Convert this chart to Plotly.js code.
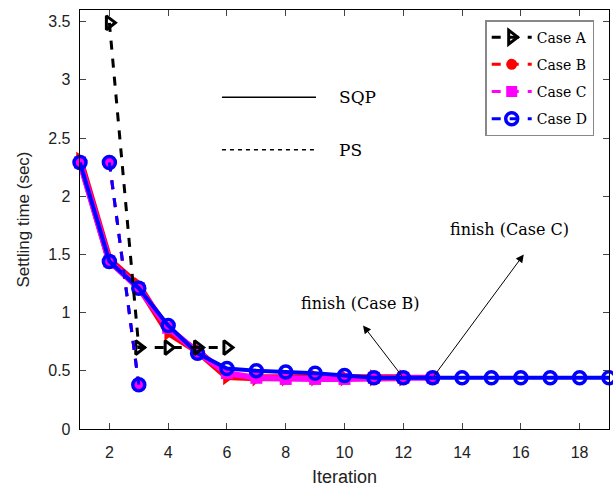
<!DOCTYPE html>
<html>
<head>
<meta charset="utf-8">
<script src="https://cdn.plot.ly/plotly-3.0.1.min.js"></script>
<style>html,body{margin:0;padding:0;background:#fff;}#chart{width:613px;height:492px;}</style>
</head>
<body>
<div id="chart"></div>
<script>
// ---- data ----
const caseNames = ["Case A", "Case B", "Case C", "Case D"];
// PS (dashed)
const psA_x = [2, 3, 4, 5, 6];
const psA_y = [3.49, 0.70, 0.70, 0.70, 0.70];
const psB_x = [2, 3];
const psB_y = [2.29, 0.38];
const psC_x = [2, 3];
const psC_y = [2.29, 0.38];
const psD_x = [2, 3];
const psD_y = [2.29, 0.38];
// SQP (solid)
const sqpB_x = [1, 2, 3, 4, 5, 6, 7, 8, 9, 10, 11, 12];
const sqpB_y = [2.31, 1.45, 1.23, 0.83, 0.67, 0.45, 0.44, 0.44, 0.44, 0.44, 0.44, 0.44];
const sqpC_x = [1, 2, 3, 4, 5, 6, 7, 8, 9, 10, 11, 12, 13];
const sqpC_y = [2.29, 1.44, 1.21, 0.87, 0.66, 0.48, 0.44, 0.43, 0.43, 0.43, 0.44, 0.44, 0.44];
const sqpD_x = [1, 2, 3, 4, 5, 6, 7, 8, 9, 10, 11, 12, 13, 14, 15, 16, 17, 18, 19];
const sqpD_y = [2.29, 1.44, 1.21, 0.89, 0.65, 0.52, 0.50, 0.49, 0.48, 0.46, 0.44, 0.44, 0.44, 0.44, 0.44, 0.44, 0.44, 0.44, 0.44];
const xTicks = [2, 4, 6, 8, 10, 12, 14, 16, 18];
const yTicks = [0, 0.5, 1, 1.5, 2, 2.5, 3, 3.5];
const yTickText = ["0", "0.5", "1", "1.5", "2", "2.5", "3", "3.5"];

const traces = [
  // SQP solid traces (no legend)
  {x: sqpB_x, y: sqpB_y, mode: "lines+markers", showlegend: false, cliponaxis: false,
   line: {color: "#ff0000", width: 7},
   marker: {symbol: "triangle-right", size: 15, color: "#ff0000"}},
  {x: sqpC_x, y: sqpC_y, mode: "lines+markers", showlegend: false, cliponaxis: false,
   line: {color: "#ff00ff", width: 6},
   marker: {symbol: "square", size: 12, color: "#ff00ff"}},
  {x: sqpD_x, y: sqpD_y, mode: "lines+markers", showlegend: false, cliponaxis: false,
   line: {color: "#0000ff", width: 4},
   marker: {symbol: "circle-open", size: 12, color: "#0000ff", line: {width: 3.5, color: "#0000ff"}}},
  // PS dashed traces (legend)
  {x: psA_x, y: psA_y, mode: "lines+markers", name: caseNames[0], legendgroup: "a", cliponaxis: false,
   line: {color: "#000000", width: 3, dash: "dash"},
   marker: {symbol: "triangle-right-open", size: 12, color: "#000000", line: {width: 3, color: "#000000"}}},
  {x: psB_x, y: psB_y, mode: "lines+markers", name: caseNames[1], legendgroup: "b",
   line: {color: "#ff0000", width: 3, dash: "dash"},
   marker: {symbol: "circle", size: 11, color: "#ff0000"}},
  {x: psC_x, y: psC_y, mode: "lines+markers", name: caseNames[2], legendgroup: "c",
   line: {color: "#ff00ff", width: 3, dash: "dash"},
   marker: {symbol: "square", size: 11, color: "#ff00ff", line: {width: 0}}},
  {x: psD_x, y: psD_y, mode: "lines+markers", name: caseNames[3], legendgroup: "d",
   line: {color: "#0000ff", width: 3, dash: "dash"},
   marker: {symbol: "circle-open", size: 12, color: "#0000ff", line: {width: 3.5, color: "#0000ff"}}}
];

const serif = "DejaVu Serif, Liberation Serif, serif";
const layout = {
  width: 613, height: 492,
  margin: {l: 80, r: 4, t: 10, b: 63},
  paper_bgcolor: "#fff", plot_bgcolor: "#fff",
  font: {family: "Liberation Sans, Arial, sans-serif", color: "#000"},
  xaxis: {
    range: [1, 19], tickvals: xTicks, ticks: "inside", ticklen: 6,
    showline: true, mirror: "ticks", linecolor: "#000", linewidth: 1.3,
    showgrid: false, zeroline: false, tickfont: {size: 16, color: "#222"},
    ticklabelstandoff: 8,
    title: {text: "Iteration", font: {size: 18, color: "#222"}, standoff: 11}
  },
  yaxis: {
    range: [0, 3.6], tickvals: yTicks, ticktext: yTickText, ticks: "inside", ticklen: 6,
    showline: true, mirror: "ticks", linecolor: "#000", linewidth: 1.3,
    showgrid: false, zeroline: false, tickfont: {size: 16, color: "#222"},
    ticklabelstandoff: 5,
    title: {text: "Settling time (sec)", font: {size: 17, color: "#222"}, standoff: 14}
  },
  legend: {
    x: 0.766, y: 0.976, xanchor: "left", yanchor: "top",
    bgcolor: "#fff", bordercolor: "#888", borderwidth: 1.5,
    font: {family: serif, size: 14, color: "#000"},
    itemwidth: 40, traceorder: "grouped", tracegroupgap: 6
  },
  shapes: [
    {type: "line", xref: "x", yref: "y", x0: 5.83, x1: 9.03, y0: 2.85, y1: 2.85,
     line: {color: "#000", width: 1.5}},
    {type: "line", xref: "x", yref: "y", x0: 5.83, x1: 9.03, y0: 2.40, y1: 2.40,
     line: {color: "#000", width: 1.5, dash: "4px,4px"}}
  ],
  annotations: [
    {x: 9.75, y: 2.85, xref: "x", yref: "y", text: "SQP", showarrow: false, xanchor: "left",
     font: {family: serif, size: 17, color: "#000"}},
    {x: 9.75, y: 2.40, xref: "x", yref: "y", text: "PS", showarrow: false, xanchor: "left",
     font: {family: serif, size: 17, color: "#000"}},
    {x: 10.52, y: 1.08, xref: "x", yref: "y", text: "finish (Case B)", showarrow: false,
     font: {family: serif, size: 16, color: "#000"}},
    {x: 15.63, y: 1.71, xref: "x", yref: "y", text: "finish (Case C)", showarrow: false,
     font: {family: serif, size: 16, color: "#000"}},
    {x: 10.63, y: 0.89, xref: "x", yref: "y", ax: 12.0, ay: 0.44, axref: "x", ayref: "y",
     text: "", showarrow: true, arrowhead: 2, arrowsize: 1.6, arrowwidth: 1, arrowcolor: "#000"},
    {x: 16.1, y: 1.50, xref: "x", yref: "y", ax: 13.0, ay: 0.44, axref: "x", ayref: "y",
     text: "", showarrow: true, arrowhead: 2, arrowsize: 1.6, arrowwidth: 1, arrowcolor: "#000"}
  ]
};

Plotly.newPlot("chart", traces, layout, {displayModeBar: false, staticPlot: true});
</script>
</body>
</html>
